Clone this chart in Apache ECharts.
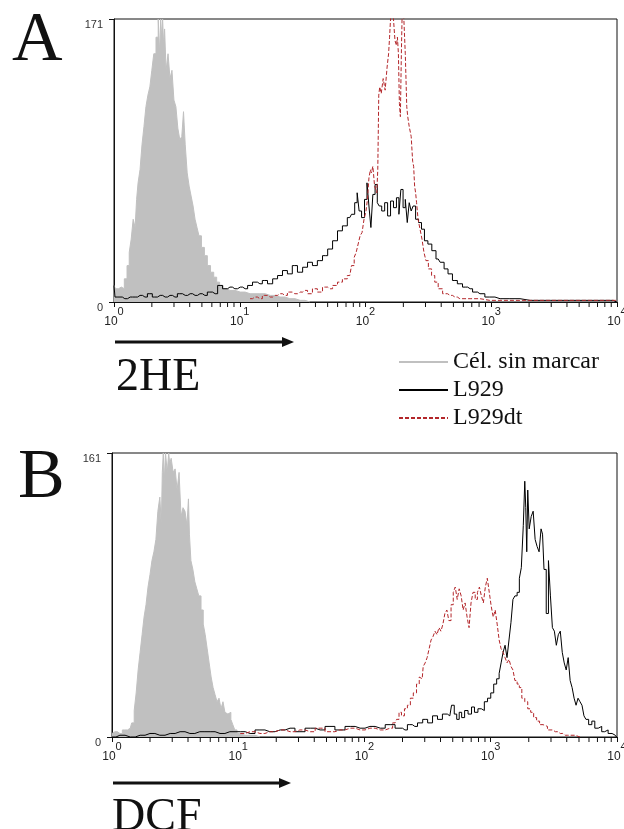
<!DOCTYPE html>
<html>
<head>
<meta charset="utf-8">
<script src="https://cdn.jsdelivr.net/npm/echarts@6/dist/echarts.min.js"></script>
<style>
  html, body { margin: 0; padding: 0; background: #fff; }
  #chart { width: 624px; height: 829px; }
</style>
</head>
<body>
<div id="chart"></div>
<script>
// Histogram channels: 1024 channels across 4 log decades (256 channels per decade).
// Panel A: 2HE fluorescence
const aUnstainedCh = [0,6,12,18,24,29,33,37,41,45,47,51,55,59,63,67,71,75,79,83,88,92,94,96,98,100,102,104,108,112,116,120,124,128,132,136,140,143,147,151,155,159,163,167,171,175,181,187,193,200,206,212,218,226,236,257,277,297,318,338,358,379,399];
const aUnstainedCount = [10,8,9,8,14,22,30,38,50,45,62,72,80,95,106,118,125,130,140,150,160,171,150,171,160,171,155,165,140,150,135,140,122,118,105,98,100,115,95,78,70,64,58,50,45,40,33,28,22,18,15,12,10,8,7,6,5,5,4,3,2,1,0];

const aL929Ch = [0,4,12,22,33,43,53,63,73,83,94,104,114,124,134,145,155,165,175,185,195,206,216,226,236,246,257,267,277,287,297,307,318,328,338,348,358,368,379,389,399,409,419,430,440,450,460,470,480,487,493,497,501,507,513,517,521,525,529,534,538,542,548,554,560,566,572,578,582,586,591,595,599,603,607,611,617,623,629,635,643,651,660,668,676,684,694,704,715,725,735,745,765,786,806,847,888,928,969,1010,1023];
const aL929Count = [10,3,3,2,3,3,4,3,5,3,4,3,4,3,5,4,5,4,5,4,6,5,10,8,9,8,9,8,10,12,11,13,11,14,16,19,17,22,18,21,24,22,25,28,32,37,43,46,51,53,60,66,55,51,62,72,58,45,65,71,60,58,55,60,52,61,57,63,53,68,57,62,48,60,55,58,50,48,44,37,35,31,26,24,20,17,13,11,9,8,6,5,3,2,2,1,1,1,1,1,0];

const aL929dtCh = [277,287,297,307,318,328,338,348,358,368,379,389,399,409,419,430,440,450,460,470,480,487,491,495,499,503,507,511,515,517,521,523,525,529,532,534,536,538,540,542,546,550,554,558,560,562,564,566,570,574,576,578,580,582,584,586,588,591,595,597,599,603,607,609,611,613,615,617,621,625,629,633,637,643,650,656,664,674,684,694,704,725,765,827,908,989,1023];
const aL929dtCount = [2,3,2,4,3,4,5,4,6,5,6,7,5,8,6,9,8,10,12,14,16,22,27,30,35,40,42,50,55,62,75,80,78,82,70,68,66,80,125,130,126,135,128,142,150,160,171,180,175,158,155,160,150,120,112,150,180,175,150,118,112,106,100,85,82,70,66,60,50,44,38,30,25,20,16,12,8,5,4,3,2,2,1,1,1,1,1];

// Panel B: DCF fluorescence
const bUnstainedCh = [0,6,16,26,37,43,47,51,55,59,63,67,71,75,79,83,87,91,95,99,101,103,105,107,110,114,116,118,122,126,130,134,138,142,146,150,154,156,158,162,166,170,174,178,183,187,191,195,199,203,207,211,215,219,223,227,231,235,239,243,247,251,256,260,280,300];
const bUnstainedCount = [2,3,2,4,5,8,15,25,38,48,58,68,75,85,92,100,105,112,128,136,120,150,161,145,161,150,161,155,158,150,152,140,150,125,130,128,120,135,115,100,95,88,84,80,72,64,58,50,42,34,28,24,20,22,16,20,14,13,14,10,7,4,2,1,1,0];

const bL929Ch = [0,16,37,57,77,97,118,138,158,178,199,219,239,260,280,300,320,341,361,381,402,422,442,462,483,503,523,544,564,584,594,604,614,625,635,645,655,665,675,685,692,696,702,706,712,718,726,732,738,746,752,758,765,771,777,783,787,791,795,799,803,807,811,815,819,824,828,832,836,838,840,842,844,848,852,856,860,864,868,872,874,878,883,887,891,895,899,903,907,911,915,919,923,927,931,935,939,943,947,951,955,959,963,970,976,982,990,996,1002,1010,1018,1023];
const bL929Count = [0,1,0,1,2,1,2,3,2,3,3,2,3,3,2,4,3,4,5,3,5,4,6,4,6,5,6,5,7,5,4,7,6,8,10,8,12,10,13,12,18,13,10,14,11,15,13,17,14,16,15,20,22,25,30,33,36,42,48,52,45,55,65,78,80,82,90,96,120,145,130,105,140,118,125,128,112,108,105,118,115,95,70,100,80,62,60,52,58,60,48,42,38,45,32,28,22,18,22,20,18,12,10,7,9,5,6,3,4,2,1,0];

const bL929dtCh = [260,280,300,320,341,361,381,402,422,442,462,483,503,523,544,564,574,580,584,590,596,602,608,614,621,625,629,633,637,641,645,649,653,657,661,665,669,673,677,681,685,690,694,698,702,706,710,714,718,722,726,730,734,739,743,747,751,755,759,763,767,771,775,779,783,787,791,795,799,803,807,811,815,819,824,828,834,840,846,852,858,864,870,878,888,899,909,919,929,949];
const bL929dtCount = [2,3,2,3,4,3,4,3,5,3,4,5,4,5,4,5,8,10,14,12,16,18,22,25,30,34,33,40,42,45,50,55,57,60,58,62,60,64,70,72,66,75,82,85,78,84,80,72,76,68,62,76,82,78,82,85,80,76,85,90,82,74,68,72,64,55,50,48,45,42,44,40,38,32,30,28,22,20,16,14,11,9,7,6,4,3,2,1,1,0];

// Axis settings
const xMin = 1, xMax = 10000;
const yMaxA = 171, yMaxB = 161;
const seriesNames = ['Cél. sin marcar', 'L929', 'L929dt'];

const CHANNELS_PER_DECADE = 256;
function toPairs(ch, counts) {
  return ch.map((c, i) => [Math.pow(10, c / CHANNELS_PER_DECADE), counts[i]]);
}

// minor tick positions 2..9 within each decade
const minorTicks = [];
for (let d = 0; d < 4; d++) for (let k = 2; k <= 9; k++) minorTicks.push([k * Math.pow(10, d), 0]);

const SANS = '"Liberation Sans", Arial, sans-serif';
const SERIF = '"Liberation Serif", "Times New Roman", serif';
const INK = '#111';

function xAxisDef(gridIndex) {
  return {
    type: 'log', logBase: 10, min: xMin, max: xMax, gridIndex,
    axisLine: { show: true, lineStyle: { color: INK, width: 1 } },
    axisTick: { show: true, length: 5, lineStyle: { color: INK, width: 1 } },
    minorTick: { show: false },
    splitLine: { show: false },
    axisLabel: {
      margin: 4,
      formatter: v => '{b|10}{s|' + Math.round(Math.log10(v)) + '}',
      rich: {
        b: { fontFamily: SANS, fontSize: 12, color: '#222', padding: [10, 0, 0, 0] },
        s: { fontFamily: SANS, fontSize: 11, color: '#222', padding: [0, 0, 10, 0] }
      }
    }
  };
}
function yAxisDef(gridIndex, max) {
  return {
    type: 'value', min: 0, max, interval: max, gridIndex,
    axisLine: { show: true, lineStyle: { color: INK, width: 1 } },
    axisTick: { show: true, length: 5, lineStyle: { color: INK, width: 1 } },
    splitLine: { show: false },
    axisLabel: { margin: 11, verticalAlign: 'top', fontFamily: SANS, fontSize: 11, color: '#333' }
  };
}

const GRAY = '#c0c0c0', BLACK = '#000', RED = '#b3262a';
function histSeries(name, pairs, idx, kind) {
  const s = {
    name, type: 'line', data: pairs, xAxisIndex: idx, yAxisIndex: idx,
    step: 'middle', symbol: 'none', showSymbol: false, silent: true, clip: true
  };
  if (kind === 'fill') {
    s.lineStyle = { color: GRAY, width: 1 };
    s.itemStyle = { color: GRAY };
    s.areaStyle = { color: GRAY, opacity: 1 };
  } else if (kind === 'solid') {
    s.lineStyle = { color: BLACK, width: 1 };
    s.itemStyle = { color: BLACK };
  } else {
    s.lineStyle = { color: RED, width: 1, type: [4, 2] };
    s.itemStyle = { color: RED };
  }
  return s;
}
function minorTickSeries(idx) {
  return {
    type: 'custom', xAxisIndex: idx, yAxisIndex: idx, silent: true, clip: false,
    data: minorTicks,
    renderItem: (params, api) => {
      const p = api.coord([api.value(0), 0]);
      return { type: 'line', shape: { x1: p[0], y1: p[1], x2: p[0], y2: p[1] + 5 },
               style: { stroke: INK, lineWidth: 1 } };
    }
  };
}

const gridBase = { show: true, borderColor: INK, borderWidth: 1, backgroundColor: 'transparent',
                   containLabel: false, outerBoundsMode: 'none' };

const option = {
  animation: false,
  backgroundColor: '#fff',
  grid: [
    Object.assign({ left: 114, top: 19, width: 503, height: 283 }, gridBase),
    Object.assign({ left: 112, top: 453, width: 505, height: 284 }, gridBase)
  ],
  xAxis: [xAxisDef(0), xAxisDef(1)],
  yAxis: [yAxisDef(0, yMaxA), yAxisDef(1, yMaxB)],
  legend: {
    data: seriesNames, orient: 'vertical', left: 393, top: 345, padding: 5,
    itemWidth: 49, itemHeight: 10, itemGap: 4, selectedMode: false,
    itemStyle: { opacity: 0 },
    textStyle: { fontFamily: SERIF, fontSize: 24, color: INK, lineHeight: 24 }
  },
  series: [
    histSeries(seriesNames[0], toPairs(aUnstainedCh, aUnstainedCount), 0, 'fill'),
    histSeries(seriesNames[1], toPairs(aL929Ch, aL929Count), 0, 'solid'),
    histSeries(seriesNames[2], toPairs(aL929dtCh, aL929dtCount), 0, 'dash'),
    histSeries(seriesNames[0], toPairs(bUnstainedCh, bUnstainedCount), 1, 'fill'),
    histSeries(seriesNames[1], toPairs(bL929Ch, bL929Count), 1, 'solid'),
    histSeries(seriesNames[2], toPairs(bL929dtCh, bL929dtCount), 1, 'dash'),
    minorTickSeries(0),
    minorTickSeries(1)
  ],
  graphic: [
    { type: 'text', x: 12, y: 42, style: { text: 'A', fontFamily: SERIF, fontSize: 70, fill: INK, verticalAlign: 'middle' } },
    { type: 'text', x: 18, y: 479, style: { text: 'B', fontFamily: SERIF, fontSize: 70, fill: INK, verticalAlign: 'middle' } },
    { type: 'line', shape: { x1: 115, y1: 342, x2: 283, y2: 342 }, style: { stroke: INK, lineWidth: 3 } },
    { type: 'polygon', shape: { points: [[282, 337], [294, 342], [282, 347]] }, style: { fill: INK } },
    { type: 'text', x: 116, y: 378, style: { text: '2HE', fontFamily: SERIF, fontSize: 46, fill: INK, verticalAlign: 'middle' } },
    { type: 'line', shape: { x1: 113, y1: 783, x2: 280, y2: 783 }, style: { stroke: INK, lineWidth: 3 } },
    { type: 'polygon', shape: { points: [[279, 778], [291, 783], [279, 788]] }, style: { fill: INK } },
    { type: 'text', x: 112, y: 818, style: { text: 'DCF', fontFamily: SERIF, fontSize: 46, fill: INK, verticalAlign: 'middle' } }
  ]
};

echarts.init(document.getElementById('chart'), null, { renderer: 'canvas' }).setOption(option);
</script>
</body>
</html>
